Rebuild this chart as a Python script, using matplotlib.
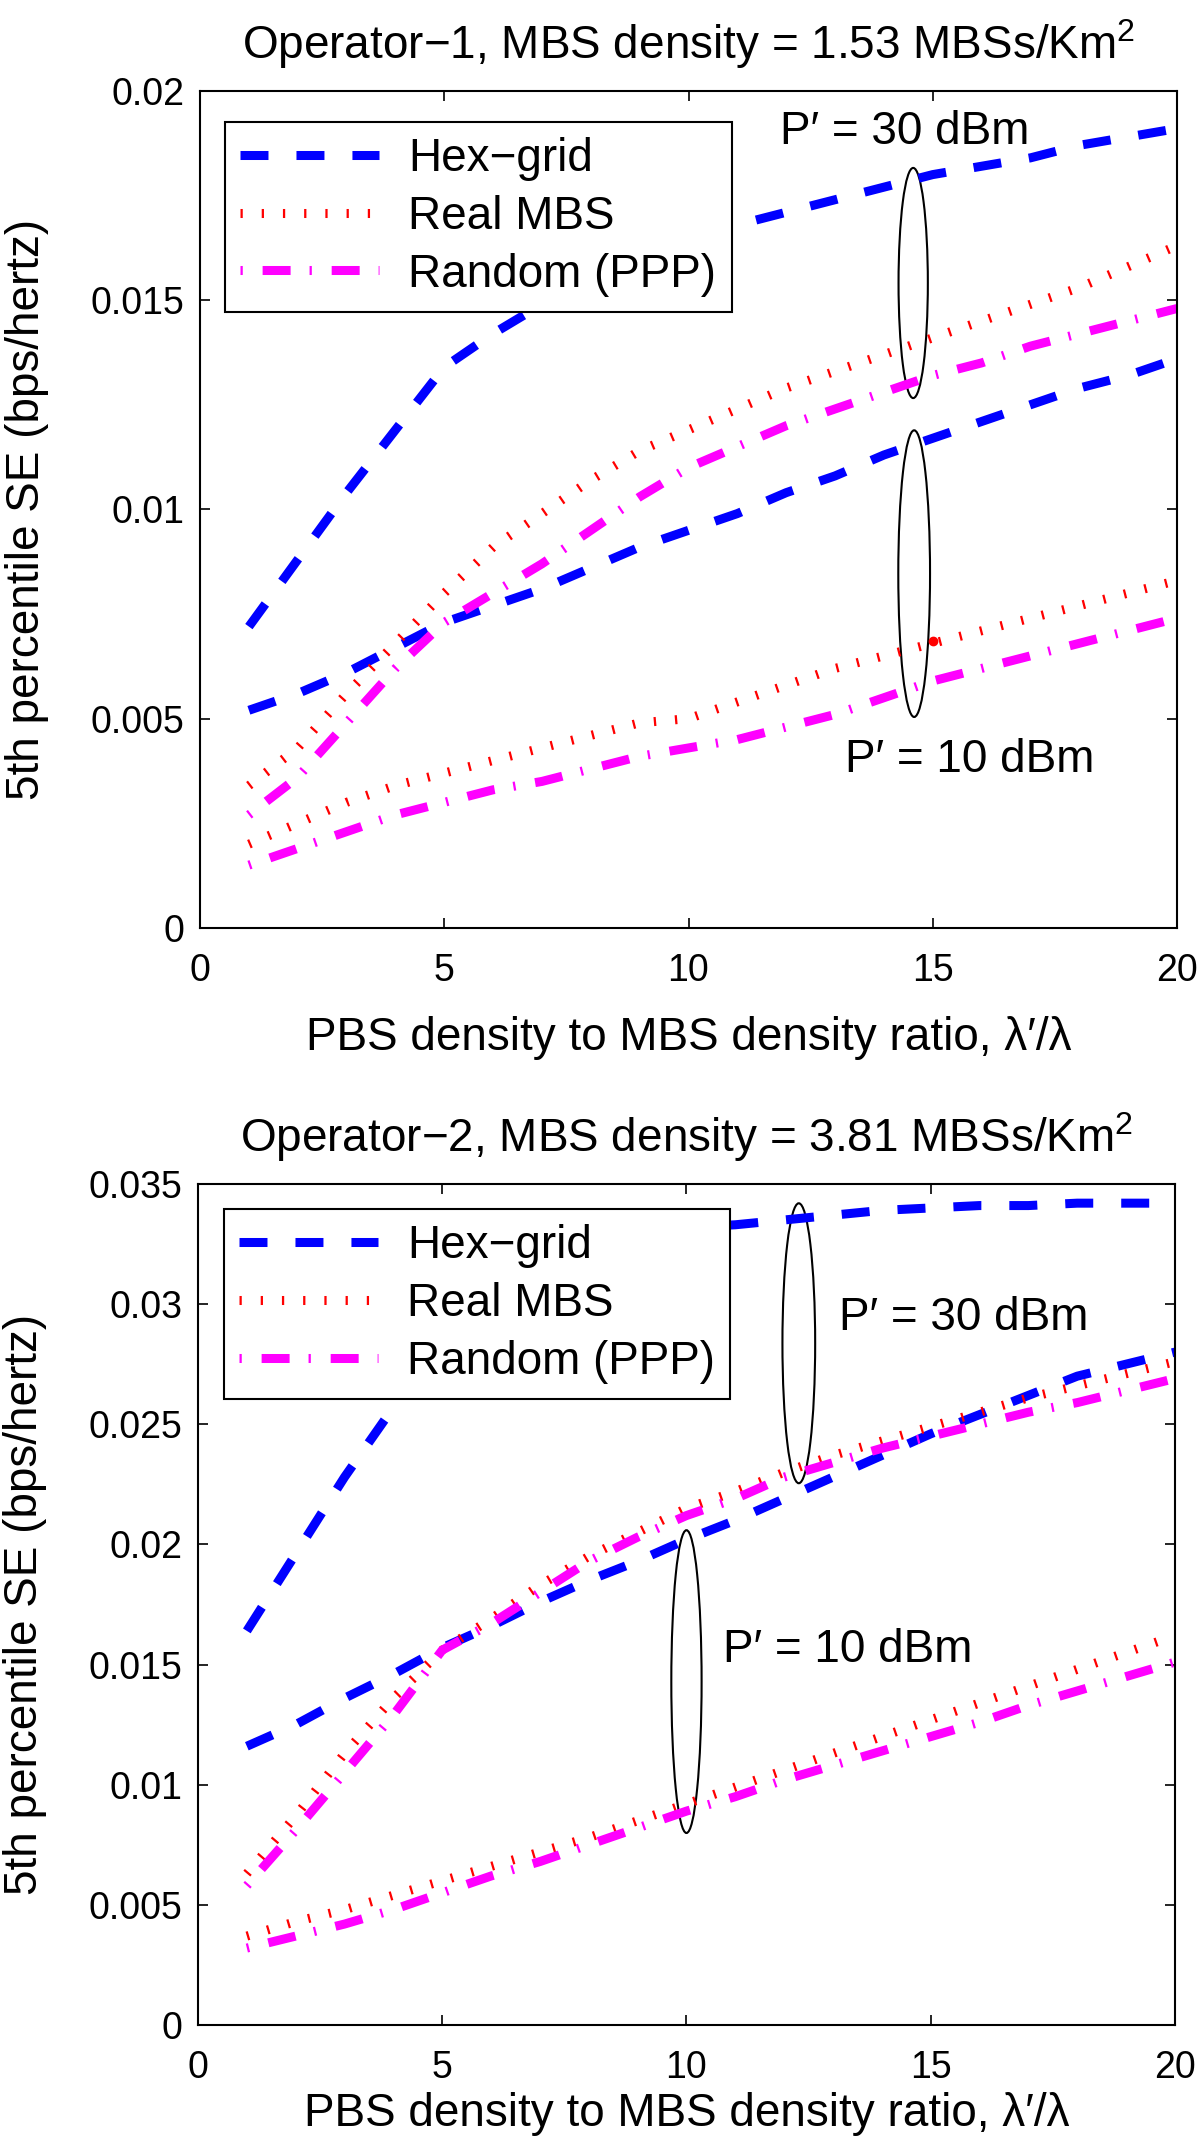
import matplotlib
matplotlib.use("Agg")
import matplotlib.pyplot as plt
from matplotlib.patches import Ellipse

params = {
    'font.family': ['Liberation Sans', 'DejaVu Sans'],
    'mathtext.fontset': 'custom',
    'mathtext.rm': 'Liberation Sans',
    'mathtext.default': 'regular',
    'font.size': 33,
    'xtick.labelsize': 27,
    'ytick.labelsize': 27,
}
plt.rcParams.update(params)

x = list(range(1, 21))

# Operator-1 (top panel)
hex_30_op1 = [.0072, .0088, .0104, .0119, .0134, .0142, .0149, .0155, .0160, .0164,
              .0168, .0171, .0174, .0177, .0180, .0182, .0184, .0187, .0189, .0191]
real_30_op1 = [.0034, .0043, .0056, .0068, .0080, .0091, .0099, .0107, .0114, .0119,
               .0124, .0129, .0133, .0137, .0141, .0145, .0149, .0153, .0158, .0163]
ppp_30_op1 = [.0027, .0036, .0049, .0062, .0073, .0080, .0087, .0095, .0103, .0110,
              .0115, .0120, .0124, .0128, .0132, .0135, .0139, .0142, .0145, .0148]
hex_10_op1 = [.0052, .0056, .0061, .0067, .0073, .0077, .0081, .0086, .0091, .0095,
              .0099, .0104, .0108, .0113, .0117, .0121, .0125, .0129, .0132, .0136]
real_10_op1 = [.0020, .0025, .0030, .0034, .0037, .0040, .0043, .0046, .0049, .0050,
               .0054, .0058, .0062, .0065, .0068, .0071, .0074, .0077, .0080, .0083]
ppp_10_op1 = [.0015, .0019, .0023, .0027, .0030, .0033, .0035, .0038, .0041, .0043,
              .0045, .0048, .0051, .0055, .0059, .0062, .0065, .0068, .0071, .0074]

# Operator-2 (bottom panel)
hex_30_op2 = [.0164, .0196, .0228, .0257, .0285, .0305, .0318, .0325, .0329, .0332,
              .0333, .0335, .0337, .0339, .0340, .0341, .0341, .0342, .0342, .0342]
real_30_op2 = [.0063, .0087, .0113, .0136, .0156, .0169, .0183, .0195, .0205, .0215,
               .0222, .0230, .0237, .0243, .0249, .0255, .0261, .0266, .0271, .0276]
ppp_30_op2 = [.0058, .0081, .0105, .0129, .0156, .0167, .0180, .0193, .0203, .0212,
              .0219, .0228, .0234, .0240, .0245, .0250, .0255, .0259, .0264, .0269]
hex_10_op2 = [.0116, .0125, .0136, .0146, .0157, .0166, .0176, .0185, .0193, .0202,
              .0210, .0219, .0228, .0237, .0246, .0254, .0262, .0270, .0275, .0280]
real_10_op2 = [.0037, .0043, .0048, .0054, .0060, .0066, .0072, .0078, .0085, .0092,
               .0099, .0106, .0113, .0120, .0127, .0134, .0141, .0148, .0155, .0162]
ppp_10_op2 = [.0032, .0037, .0042, .0048, .0055, .0062, .0068, .0075, .0082, .0089,
              .0095, .0102, .0108, .0114, .0120, .0126, .0133, .0139, .0145, .0151]

labels = ['Hex\u2212grid', 'Real MBS', 'Random (PPP)']
titles = ['Operator\u22121, MBS density = 1.53 MBSs/Km$^2$',
          'Operator\u22122, MBS density = 3.81 MBSs/Km$^2$']
xlabel = 'PBS density to MBS density ratio, \u03bb\u2032/\u03bb'
ylabel = '5th percentile SE (bps/hertz)'

lw = 6.5
styles = [
    dict(color='blue', linestyle=(0, (3.1, 3.1))),
    dict(color='red', linestyle=(0, (0.25, 2.1))),
    dict(color='magenta', linestyle=(0, (0.25, 2.2, 3.1, 2.1))),
]

fig = plt.figure(figsize=(12, 21.39), dpi=100)
ax1 = fig.add_axes([0.1667, 0.5662, 0.8141, 0.3913])
ax2 = fig.add_axes([0.165, 0.0533, 0.8141, 0.3932])

panels = [
    (ax1, [hex_30_op1, real_30_op1, ppp_30_op1], [hex_10_op1, real_10_op1, ppp_10_op1],
     0.02, [0, 0.005, 0.01, 0.015, 0.02], ['0', '0.005', '0.01', '0.015', '0.02']),
    (ax2, [hex_30_op2, real_30_op2, ppp_30_op2], [hex_10_op2, real_10_op2, ppp_10_op2],
     0.035, [0, 0.005, 0.01, 0.015, 0.02, 0.025, 0.03, 0.035],
     ['0', '0.005', '0.01', '0.015', '0.02', '0.025', '0.03', '0.035']),
]

for i, (ax, hi, lo, ymax, yt, ytl) in enumerate(panels):
    for k in range(3):
        ax.plot(x, hi[k], lw=lw, label=labels[k], **styles[k])
        ax.plot(x, lo[k], lw=lw, **styles[k])
    ax.set_xlim(0, 20)
    ax.set_ylim(0, ymax)
    ax.set_xticks([0, 5, 10, 15, 20])
    ax.set_yticks(yt)
    ax.set_yticklabels(ytl)
    ax.tick_params(direction='in', length=7, width=1.2, pad=11,
                   top=True, right=True)
    ax.tick_params(axis='x', pad=18)
    for sp in ax.spines.values():
        sp.set_linewidth(1.5)
    ax.set_title(titles[i], fontsize=33, pad=23)
    ax.set_xlabel(xlabel, fontsize=33)
    ax.set_ylabel(ylabel, fontsize=33)
    ax.yaxis.set_label_coords(-0.155, 0.5)

ax1.xaxis.set_label_coords(0.5, -0.105)
ax2.xaxis.set_label_coords(0.5, -0.08)

leg_anchor = [(0.0256, 0.963), (0.0266, 0.970)]
for ax, anc in zip([ax1, ax2], leg_anchor):
    leg = ax.legend(loc='upper left', bbox_to_anchor=anc, borderaxespad=0,
                    fontsize=33, fancybox=False, framealpha=1, edgecolor='black',
                    handlelength=3.02, handletextpad=0.65, labelspacing=0.3,
                    borderpad=0.33)
    leg.get_frame().set_linewidth(1.5)

# annotations, top panel
ax1.add_patch(Ellipse((14.6, 0.01541), 0.6, 0.0055, fill=False, lw=1.5, color='black'))
ax1.add_patch(Ellipse((14.62, 0.008465), 0.65, 0.00685, fill=False, lw=1.5, color='black'))
ax1.plot([15.0], [0.00686], 'o', color='red', markersize=6)
ax1.text(11.87, 0.01873, 'P\u2032 = 30 dBm', fontsize=33, va='baseline')
ax1.text(13.2, 0.003737, 'P\u2032 = 10 dBm', fontsize=33, va='baseline')

# annotations, bottom panel
ax2.add_patch(Ellipse((12.3, 0.02837), 0.67, 0.01165, fill=False, lw=1.5, color='black'))
ax2.add_patch(Ellipse((10.0, 0.01429), 0.62, 0.0126, fill=False, lw=1.5, color='black'))
ax2.text(13.12, 0.02893, 'P\u2032 = 30 dBm', fontsize=33, va='baseline')
ax2.text(10.75, 0.01512, 'P\u2032 = 10 dBm', fontsize=33, va='baseline')

fig.savefig('out.png', dpi=100)
